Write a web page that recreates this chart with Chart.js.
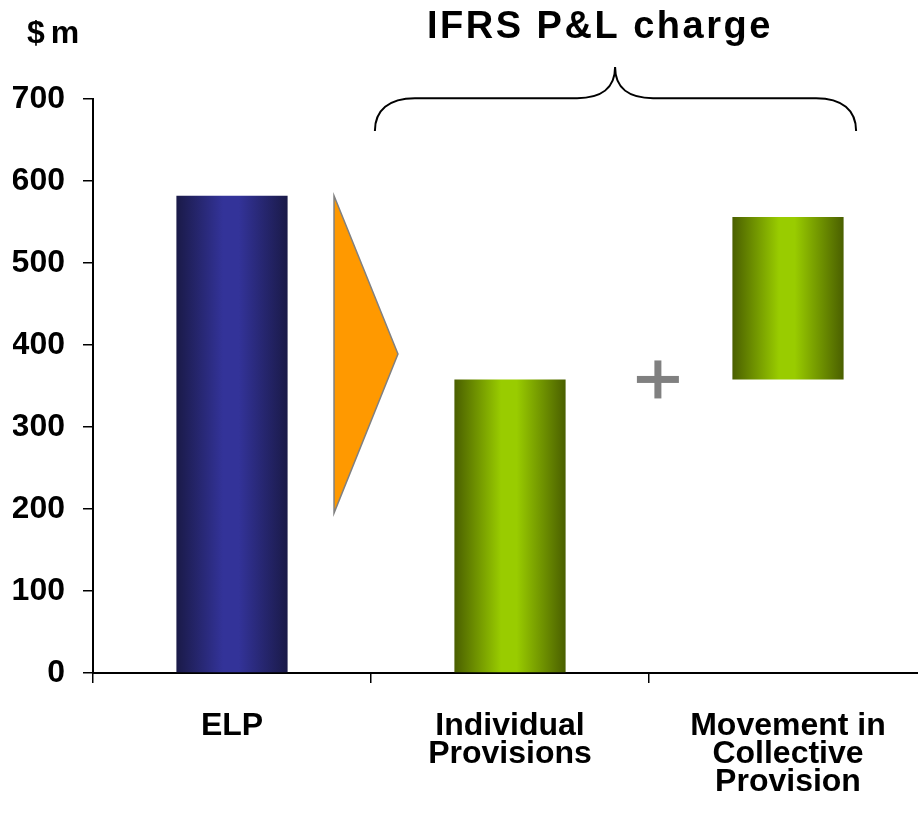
<!DOCTYPE html>
<html>
<head>
<meta charset="utf-8">
<script src="https://cdn.jsdelivr.net/npm/chart.js@4/dist/chart.umd.min.js"></script>
<style>
    html, body { margin: 0; padding: 0; background: #fff; overflow: hidden; }
    #wrap { width: 918px; height: 820px; overflow: hidden; }
</style>
</head>
<body>
<div id="wrap"><canvas id="chart" width="928" height="820"></canvas></div>
<script>
// --- Data ---
const categories = [['ELP'], ['Individual', 'Provisions'], ['Movement in', 'Collective', 'Provision']];
const barStart = [0, 0, 358];
const barEnd = [582, 358, 556];
const arrowValues = [582, 389, 195]; // top, tip, bottom of the orange arrow ($m)
const yMin = 0;
const yMax = 700;
const yStep = 100;

// edge / centre colour of each bar
const barColors = [
    ['#1a1a48', '#333399'],
    ['#4a5f00', '#99cc00'],
    ['#4a5f00', '#99cc00']
];
const FONT = '"Liberation Sans", Arial, sans-serif';
const BAR_PCT = 0.4;

// --- Decorations: arrow, plus sign, brace, headings ---
const decorations = {
    id: 'decorations',
    afterDatasetsDraw(chart) {
        const { ctx, scales: { x, y } } = chart;
        ctx.save();

        // orange arrow between ELP and Individual Provisions
        ctx.beginPath();
        ctx.moveTo(x.getPixelForValue(0.367), y.getPixelForValue(arrowValues[0]));
        ctx.lineTo(x.getPixelForValue(0.597), y.getPixelForValue(arrowValues[1]));
        ctx.lineTo(x.getPixelForValue(0.367), y.getPixelForValue(arrowValues[2]));
        ctx.closePath();
        ctx.fillStyle = '#ff9900';
        ctx.fill();
        ctx.strokeStyle = '#808080';
        ctx.lineWidth = 1.5;
        ctx.stroke();

        // grey plus sign
        const px = x.getPixelForValue(1.532);
        const py = y.getPixelForValue(barStart[2]);
        ctx.fillStyle = '#808080';
        ctx.fillRect(px - 21, py - 3.5, 42, 7);
        ctx.fillRect(px - 3.5, py - 19, 7, 38);

        // curly brace over the IFRS bars
        const l = x.getPixelForValue(0.514);
        const m = x.getPixelForValue(1.378);
        const r = x.getPixelForValue(2.245);
        const yb = y.getPixelForValue(661);
        const yh = y.getPixelForValue(701);
        const yc = y.getPixelForValue(739);
        ctx.beginPath();
        ctx.moveTo(l, yb);
        ctx.bezierCurveTo(l, yh + 12, l + 14, yh, l + 40, yh);
        ctx.lineTo(m - 38, yh);
        ctx.bezierCurveTo(m - 14, yh, m, yh - 10, m, yc);
        ctx.bezierCurveTo(m, yh - 10, m + 14, yh, m + 38, yh);
        ctx.lineTo(r - 40, yh);
        ctx.bezierCurveTo(r - 14, yh, r, yh + 12, r, yb);
        ctx.strokeStyle = '#000';
        ctx.lineWidth = 2;
        ctx.stroke();

        // headings
        ctx.fillStyle = '#000';
        ctx.textBaseline = 'alphabetic';
        ctx.textAlign = 'left';
        ctx.font = 'bold 38px ' + FONT;
        ctx.letterSpacing = '2.5px';
        ctx.fillText('IFRS P&L charge', 427, 38);
        ctx.font = 'bold 32px ' + FONT;
        ctx.letterSpacing = '6px';
        ctx.fillText('$m', 27, 43);
        ctx.letterSpacing = '0px';

        ctx.restore();
    }
};

new Chart(document.getElementById('chart'), {
    type: 'bar',
    data: {
        labels: categories,
        datasets: [{
            data: barStart.map((s, i) => [s, barEnd[i]]),
            backgroundColor: (c) => {
                const chart = c.chart;
                const pair = barColors[c.dataIndex] || barColors[0];
                if (!chart.chartArea || c.dataIndex === undefined) return pair[1];
                const xs = chart.scales.x;
                const cx = xs.getPixelForValue(c.dataIndex);
                const w = xs.width / categories.length * BAR_PCT;
                const g = chart.ctx.createLinearGradient(cx - w / 2, 0, cx + w / 2, 0);
                g.addColorStop(0, pair[0]);
                g.addColorStop(0.42, pair[1]);
                g.addColorStop(0.56, pair[1]);
                g.addColorStop(1, pair[0]);
                return g;
            },
            borderWidth: 0,
            barPercentage: BAR_PCT,
            categoryPercentage: 1
        }]
    },
    options: {
        responsive: false,
        animation: false,
        devicePixelRatio: 1,
        layout: { padding: { left: 13, top: 99, right: 1, bottom: 0 } },
        plugins: {
            legend: { display: false },
            tooltip: { enabled: false }
        },
        scales: {
            x: {
                afterFit: (s) => { s.height = 147; },
                grid: { drawOnChartArea: false, drawTicks: true, tickLength: 10, color: '#000', lineWidth: 1.5 },
                border: { color: '#000', width: 2 },
                ticks: {
                    color: '#000',
                    font: { family: FONT, size: 32, weight: 'bold', lineHeight: 0.88 },
                    padding: 29,
                    maxRotation: 0,
                    autoSkip: false
                }
            },
            y: {
                min: yMin,
                max: yMax,
                afterFit: (s) => { s.width = 80; },
                grid: { drawOnChartArea: false, drawTicks: true, tickLength: 10, color: '#000', lineWidth: 1.5 },
                border: { color: '#000', width: 2 },
                ticks: {
                    stepSize: yStep,
                    color: '#000',
                    font: { family: FONT, size: 32, weight: 'bold' },
                    padding: 18
                }
            }
        }
    },
    plugins: [decorations]
});
</script>
</body>
</html>
